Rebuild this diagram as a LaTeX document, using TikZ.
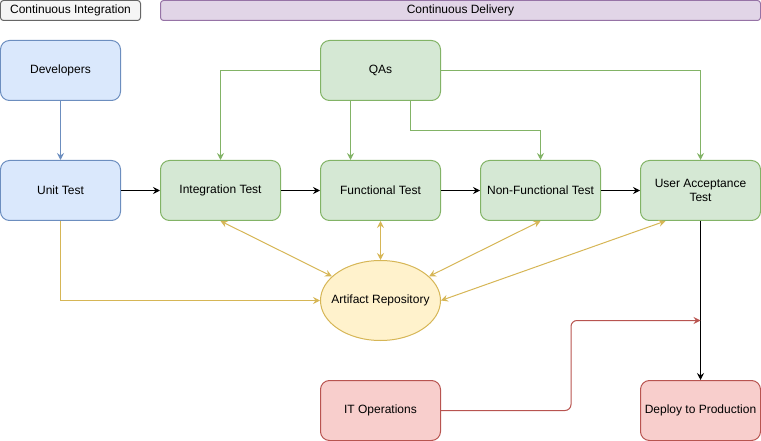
\documentclass[tikz,border=0pt]{standalone}
\usepackage{fontspec}
\setmainfont{Liberation Sans}
\usetikzlibrary{arrows.meta}
\usetikzlibrary{shapes.geometric}
\definecolor{bluefill}{HTML}{DAE8FC}
\definecolor{bluedraw}{HTML}{6C8EBF}
\definecolor{greenfill}{HTML}{D5E8D4}
\definecolor{greendraw}{HTML}{82B366}
\definecolor{yellowfill}{HTML}{FFF2CC}
\definecolor{yellowdraw}{HTML}{D6B656}
\definecolor{redfill}{HTML}{F8CECC}
\definecolor{reddraw}{HTML}{B85450}
\definecolor{greyfill}{HTML}{F5F5F5}
\definecolor{greydraw}{HTML}{666666}
\definecolor{purplefill}{HTML}{E1D5E7}
\definecolor{purpledraw}{HTML}{9673A6}
\tikzset{box/.style = {shape = rectangle, draw, rounded corners = 9pt, line width = 1pt, minimum width = 120pt, minimum height = 60pt, align = center, font = \fontsize{12}{14}\selectfont}}
\tikzset{header/.style = {shape = rectangle, draw, rounded corners = 3pt, line width = 1pt, minimum height = 20pt, font = \fontsize{12}{14}\selectfont}}
\tikzset{edge/.style = {-{Stealth[length = 7pt, width = 7pt, inset = 2.5pt]}, line width = 1pt}}
\tikzset{twoway/.style = {{Stealth[length = 7pt, width = 7pt, inset = 2.5pt]}-{Stealth[length = 7pt, width = 7pt, inset = 2.5pt]}, line width = 1pt}}

\begin{document}
\begin{tikzpicture}[x = 1pt, y = -1pt]
			\useasboundingbox (-0.5, -0.5) rectangle (760.5, 440.5);

			\node[header, fill = greyfill, draw = greydraw, minimum width = 140pt] (k) at (70, 10) {Continuous Integration};
			\node[header, fill = purplefill, draw = purpledraw, minimum width = 600pt] (l) at (460, 10) {Continuous Delivery};

			\node[box, fill = bluefill, draw = bluedraw] (a) at (60, 70) {Developers};
			\node[box, fill = bluefill, draw = bluedraw] (b) at (60, 190) {Unit Test};
			\node[box, fill = greenfill, draw = greendraw] (c) at (220, 190) {Integration Test};
			\node[box, fill = greenfill, draw = greendraw] (d) at (380, 190) {Functional Test};
			\node[box, fill = greenfill, draw = greendraw] (e) at (540, 190) {Non-Functional Test};
			\node[box, fill = greenfill, draw = greendraw] (f) at (700, 190) {User Acceptance\\Test};
			\node[box, fill = greenfill, draw = greendraw] (g) at (380, 70) {QAs};
			\node[box, shape = ellipse, fill = yellowfill, draw = yellowdraw, minimum height = 80pt, inner sep = 0pt] (h) at (380, 300) {\makebox[0pt]{Artifact Repository}};
			\node[box, fill = redfill, draw = reddraw] (i) at (380, 410) {IT Operations};
			\node[box, fill = redfill, draw = reddraw] (j) at (700, 410) {Deploy to Production};
			\coordinate (m) at (700, 320);

			\draw[edge, bluedraw] (a) to (b);
			\draw[edge] (b) to (c);
			\draw[edge] (c) to (d);
			\draw[edge] (d) to (e);
			\draw[edge] (e) to (f);
			\draw[edge] (f) to (j);
			\draw[edge, greendraw] (g.west) -| (c.north);
			\draw[edge, greendraw] ([xshift = -30pt]g.south) to ([xshift = -30pt]d.north);
			\draw[edge, greendraw] ([xshift = 30pt]g.south) -- ++(0, 30) -| (e.north);
			\draw[edge, greendraw] (g.east) -| (f.north);
			\draw[edge, yellowdraw] (b.south) |- (h.west);
			\draw[twoway, yellowdraw] (c.south) to (h);
			\draw[twoway, yellowdraw] (d.south) to (h.north);
			\draw[twoway, yellowdraw] (e.south) to (h);
			\draw[twoway, yellowdraw] ([xshift = -35pt]f.south) to (h.east);
			\draw[edge, reddraw, rounded corners = 6pt] (i.east) -- ++(130, 0) |- (m);
		\end{tikzpicture}
\end{document}
